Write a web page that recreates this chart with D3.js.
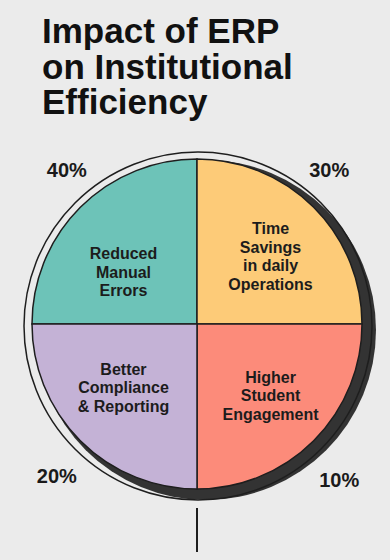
<!DOCTYPE html>
<html>
<head>
<meta charset="utf-8">
<script src="https://cdn.jsdelivr.net/npm/d3@7"></script>
<style>
  html, body { margin: 0; padding: 0; background: #ebebeb; }
  svg { display: block; }
  .title { font-family: "Liberation Sans", Arial, sans-serif; font-weight: 700; font-size: 35px; fill: #111; }
  .slice-label { font-family: "Liberation Sans", Arial, sans-serif; font-weight: 700; font-size: 16px; fill: #1c1c1c; }
  .pct-label { font-family: "Liberation Sans", Arial, sans-serif; font-weight: 700; font-size: 20px; fill: #1a1a1a; }
</style>
</head>
<body>
<div class="chart"></div>
<script>
// slices clockwise from the top-left quadrant
const categories = ["Reduced Manual Errors", "Time Savings in daily Operations", "Higher Student Engagement", "Better Compliance & Reporting"];
const labelLines = [["Reduced", "Manual", "Errors"], ["Time", "Savings", "in daily", "Operations"], ["Higher", "Student", "Engagement"], ["Better", "Compliance", "& Reporting"]];
const percents = [40, 30, 10, 20];
// every slice is drawn as a quarter of the circle in the picture
const sliceShares = [25, 25, 25, 25];
const colours = ["#6dc3b8", "#fdcb78", "#fc8b7a", "#c4b2d6"];
const titleLines = ["Impact of ERP", "on Institutional", "Efficiency"];

const width = 390, height = 560;
const cx = 197, cy = 324, radius = 165;

const svg = d3.select(".chart").append("svg")
    .attr("width", width)
    .attr("height", height);

svg.append("rect")
    .attr("width", width)
    .attr("height", height)
    .attr("fill", "#ebebeb");

svg.append("g")
    .selectAll("text")
    .data(titleLines)
    .enter()
    .append("text")
    .attr("class", "title")
    .attr("x", 42)
    .attr("y", (d, i) => 43 + i * 35.5)
    .text(d => d);

const pieData = d3.pie()
    .sort(null)
    .value(d => d)
    .startAngle(-Math.PI / 2)
    .endAngle(Math.PI * 1.5)(sliceShares);

const arc = d3.arc().innerRadius(0).outerRadius(radius);

const g = svg.append("g").attr("transform", `translate(${cx},${cy})`);

// dark shadow crescent to the lower right
g.append("circle")
    .attr("cx", 9)
    .attr("cy", 6)
    .attr("r", 170)
    .attr("fill", "#333");

// thin outer ring
g.append("circle")
    .attr("cx", 1)
    .attr("cy", 2)
    .attr("r", 174)
    .attr("fill", "none")
    .attr("stroke", "#1e1e1e")
    .attr("stroke-width", 1.5);

g.selectAll("path.slice")
    .data(pieData)
    .enter()
    .append("path")
    .attr("class", "slice")
    .attr("d", arc)
    .attr("fill", (d, i) => colours[i])
    .attr("stroke", "#1e1e1e")
    .attr("stroke-width", 1.5);

// labels inside the slices, placed on an ellipse around the centre
const mid = d => (d.startAngle + d.endAngle) / 2;
const lineH = 18.5;
const labelShiftY = [12, -4, 8, 0];

g.selectAll("text.slice-label")
    .data(pieData)
    .enter()
    .append("text")
    .attr("class", "slice-label")
    .attr("text-anchor", "middle")
    .each(function(d, i) {
        const lines = labelLines[i];
        const x = Math.sin(mid(d)) * 104;
        const y = -Math.cos(mid(d)) * 90 + labelShiftY[i];
        lines.forEach((t, j) => {
            d3.select(this).append("tspan")
                .attr("x", x)
                .attr("y", y + (j - (lines.length - 1) / 2) * lineH)
                .attr("dy", "0.35em")
                .text(t);
        });
    });

// percentages outside the ring, small nudges to sit where the original has them
const pctShift = [[7, 0], [-5, 0], [5, 2], [-3, -2]];

g.selectAll("text.pct-label")
    .data(pieData)
    .enter()
    .append("text")
    .attr("class", "pct-label")
    .attr("text-anchor", "middle")
    .attr("x", (d, i) => Math.sin(mid(d)) * 194 + pctShift[i][0])
    .attr("y", (d, i) => -Math.cos(mid(d)) * 218 + pctShift[i][1])
    .attr("dy", "0.35em")
    .text((d, i) => percents[i] + "%");

// short stem below the pie
g.append("line")
    .attr("x1", 0)
    .attr("x2", 0)
    .attr("y1", 184)
    .attr("y2", 228)
    .attr("stroke", "#1e1e1e")
    .attr("stroke-width", 2);
</script>
</body>
</html>
